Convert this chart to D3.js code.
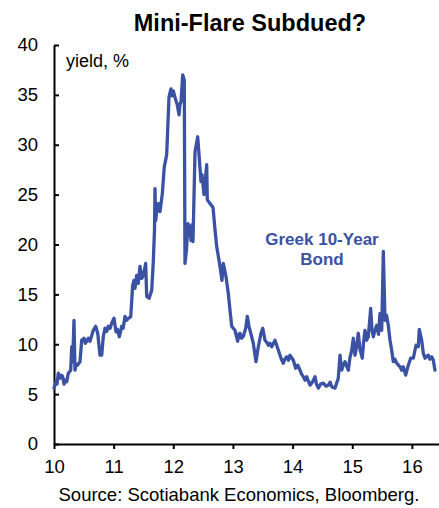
<!DOCTYPE html>
<html>
<head>
<meta charset="utf-8">
<script src="https://cdn.jsdelivr.net/npm/d3@7"></script>
<style>
  html, body { margin: 0; padding: 0; background: #fff; }
  svg { display: block; font-family: Arial, "Liberation Sans", sans-serif; }
</style>
</head>
<body>
<svg id="chart" width="439" height="508"></svg>
<script>
// Greek 10-year government bond yield, %, by year (yy + fraction)
const years = [
  10.000, 10.034, 10.050, 10.072, 10.101, 10.125, 10.146, 10.168, 10.190, 10.213,
  10.240, 10.280, 10.297, 10.313, 10.335, 10.352, 10.370, 10.391, 10.436, 10.464,
  10.503, 10.525, 10.548, 10.575, 10.604, 10.659, 10.699, 10.733, 10.771, 10.800,
  10.826, 10.855, 10.885, 10.910, 10.940, 10.967, 11.006, 11.039, 11.065, 11.095,
  11.135, 11.160, 11.190, 11.220, 11.246, 11.286, 11.319, 11.340, 11.358, 11.386,
  11.413, 11.442, 11.470, 11.497, 11.537, 11.554, 11.593, 11.638, 11.665, 11.685,
  11.693, 11.705, 11.725, 11.749, 11.777, 11.816, 11.849, 11.870, 11.889, 11.906,
  11.928, 11.961, 11.980, 12.000, 12.040, 12.067, 12.096, 12.110, 12.129, 12.158,
  12.184, 12.196, 12.221, 12.246, 12.280, 12.297, 12.314, 12.330, 12.364, 12.409,
  12.431, 12.464, 12.481, 12.515, 12.560, 12.570, 12.615, 12.666, 12.699, 12.728,
  12.783, 12.816, 12.838, 12.883, 12.922, 12.951, 12.979, 13.006, 13.034, 13.080,
  13.100, 13.118, 13.145, 13.174, 13.214, 13.241, 13.269, 13.303, 13.341, 13.386,
  13.425, 13.470, 13.499, 13.537, 13.565, 13.593, 13.620, 13.650, 13.705, 13.750,
  13.806, 13.844, 13.870, 13.901, 13.930, 13.956, 14.012, 14.052, 14.086, 14.124,
  14.150, 14.179, 14.210, 14.236, 14.265, 14.292, 14.330, 14.376, 14.400, 14.431,
  14.470, 14.515, 14.560, 14.598, 14.630, 14.655, 14.711, 14.766, 14.795, 14.823,
  14.850, 14.878, 14.934, 14.960, 14.991, 15.018, 15.046, 15.075, 15.101, 15.130,
  15.168, 15.190, 15.214, 15.240, 15.269, 15.309, 15.330, 15.353, 15.380, 15.410,
  15.440, 15.465, 15.494, 15.521, 15.549, 15.575, 15.604, 15.633, 15.661, 15.688,
  15.715, 15.745, 15.775, 15.801, 15.830, 15.856, 15.896, 15.940, 15.980, 16.024,
  16.069, 16.107, 16.124, 16.164, 16.191, 16.220, 16.250, 16.275, 16.300, 16.332,
  16.359, 16.387
];
const yields = [
  5.6, 6.25, 6.0, 7.1, 6.6, 6.9, 6.75, 6.0, 6.4, 6.25,
  7.1, 7.4, 9.75, 8.25, 12.4, 7.4, 8.0, 7.9, 8.25, 10.4,
  10.6, 10.1, 10.3, 10.6, 10.3, 11.4, 11.8, 11.1, 8.9, 8.9,
  10.75, 11.6, 11.3, 11.8, 11.6, 12.1, 12.6, 11.25, 11.5, 10.75,
  11.8, 11.6, 12.8, 12.4, 12.6, 12.75, 15.9, 16.4, 15.6, 16.9,
  16.1, 17.8, 16.6, 16.9, 18.1, 14.8, 14.6, 15.4, 18.3, 21.5,
  25.6, 22.4, 23.5, 24.1, 23.3, 25.1, 27.8, 28.4, 29.0, 31.5,
  34.8, 35.6, 34.9, 35.4, 34.5, 34.0, 33.0, 34.0, 34.3, 37.0,
  36.5, 18.1, 19.5, 22.1, 21.5, 20.4, 22.0, 20.3, 29.3, 30.8,
  29.0, 26.3, 27.0, 25.0, 28.0, 24.5, 24.1, 23.7, 21.5, 19.8,
  17.8, 16.4, 18.1, 16.8, 15.1, 13.4, 11.8, 11.6, 11.4, 10.3,
  11.0, 11.1, 10.6, 10.8, 11.6, 12.8, 11.8, 11.0, 10.1, 8.25,
  9.75, 11.1, 11.6, 10.4, 10.2, 9.9, 10.1, 9.75, 10.4, 9.6,
  8.6, 8.1, 8.5, 8.75, 8.4, 8.9, 8.4, 7.6, 7.9, 7.4,
  7.0, 6.75, 6.4, 6.75, 6.3, 5.9, 6.2, 6.75, 6.0, 5.6,
  6.0, 6.1, 5.8, 5.9, 6.2, 5.75, 5.6, 6.6, 8.9, 7.4,
  7.9, 8.25, 7.4, 8.6, 9.4, 10.6, 8.9, 9.8, 11.1, 9.5,
  8.6, 10.2, 11.4, 10.4, 10.75, 13.6, 11.5, 10.75, 11.4, 11.9,
  11.0, 13.1, 11.4, 19.3, 12.4, 12.9, 11.9, 10.4, 9.4, 8.25,
  8.5, 8.1, 7.9, 7.75, 7.4, 7.75, 6.9, 7.9, 8.6, 8.6,
  9.9, 9.75, 11.5, 10.4, 9.1, 8.6, 8.8, 8.9, 8.5, 8.75,
  8.4, 7.4
];
const yTicks = [0, 5, 10, 15, 20, 25, 30, 35, 40];
const xTicks = [10, 11, 12, 13, 14, 15, 16];

const titleText = "Mini-Flare Subdued?";
const unitLabel = "yield, %";
const seriesLabel = ["Greek 10-Year", "Bond"];
const sourceText = "Source: Scotiabank Economics, Bloomberg.";

const lineColor = "#3b51a3";

const svg = d3.select("#chart");
const plotLeft = 54, plotRight = 439, plotTop = 45, plotBottom = 444;

const x = d3.scaleLinear().domain([10, 10 + (plotRight - plotLeft) / 59.65]).range([plotLeft, plotRight]);
const y = d3.scaleLinear().domain([0, 40]).range([plotBottom, plotTop]);

// title
svg.append("text")
  .attr("x", 250).attr("y", 31)
  .attr("text-anchor", "middle")
  .attr("font-size", 23.5).attr("font-weight", "bold")
  .attr("fill", "#000")
  .text(titleText);

// y axis: ticks point inward
const yAxis = svg.append("g")
  .attr("transform", `translate(${plotLeft},0)`)
  .call(d3.axisRight(y).tickValues(yTicks).tickSize(5).tickSizeOuter(0).tickFormat(d3.format("d")));
yAxis.select(".domain").attr("stroke", "#000").attr("stroke-width", 2);
yAxis.selectAll(".tick line").attr("stroke", "#000").attr("stroke-width", 2);
yAxis.selectAll(".tick text")
  .attr("x", -16).attr("text-anchor", "end")
  .attr("font-size", 18.5).attr("fill", "#000")
  .attr("font-family", "Arial, 'Liberation Sans', sans-serif");

// x axis: ticks point outward
const xAxis = svg.append("g")
  .attr("transform", `translate(0,${plotBottom})`)
  .call(d3.axisBottom(x).tickValues(xTicks).tickSize(5).tickSizeOuter(0).tickFormat(d3.format("d")));
xAxis.select(".domain").attr("stroke", "#000").attr("stroke-width", 2);
xAxis.selectAll(".tick line").attr("stroke", "#000").attr("stroke-width", 2);
xAxis.selectAll(".tick text")
  .attr("y", 16).attr("dy", "0.71em")
  .attr("font-size", 18.5).attr("fill", "#000")
  .attr("font-family", "Arial, 'Liberation Sans', sans-serif");

// unit label
svg.append("text")
  .attr("x", 66).attr("y", 67)
  .attr("font-size", 18).attr("fill", "#000")
  .text(unitLabel);

// yield line
const series = years.map((t, i) => ({ t, v: yields[i] }));
svg.append("path")
  .datum(series)
  .attr("fill", "none")
  .attr("stroke", lineColor)
  .attr("stroke-width", 3.3)
  .attr("stroke-linejoin", "round")
  .attr("stroke-linecap", "round")
  .attr("d", d3.line().x(d => x(d.t)).y(d => y(d.v)));

// series annotation
svg.append("text")
  .attr("x", 322).attr("y", 245)
  .attr("text-anchor", "middle")
  .attr("font-size", 17).attr("font-weight", "bold")
  .attr("fill", lineColor)
  .selectAll("tspan")
  .data(seriesLabel)
  .join("tspan")
  .attr("x", 322)
  .attr("dy", (d, i) => i === 0 ? 0 : 20)
  .text(d => d);

// source note
svg.append("text")
  .attr("x", 239).attr("y", 501)
  .attr("text-anchor", "middle")
  .attr("font-size", 18.5).attr("fill", "#000")
  .text(sourceText);
</script>
</body>
</html>
